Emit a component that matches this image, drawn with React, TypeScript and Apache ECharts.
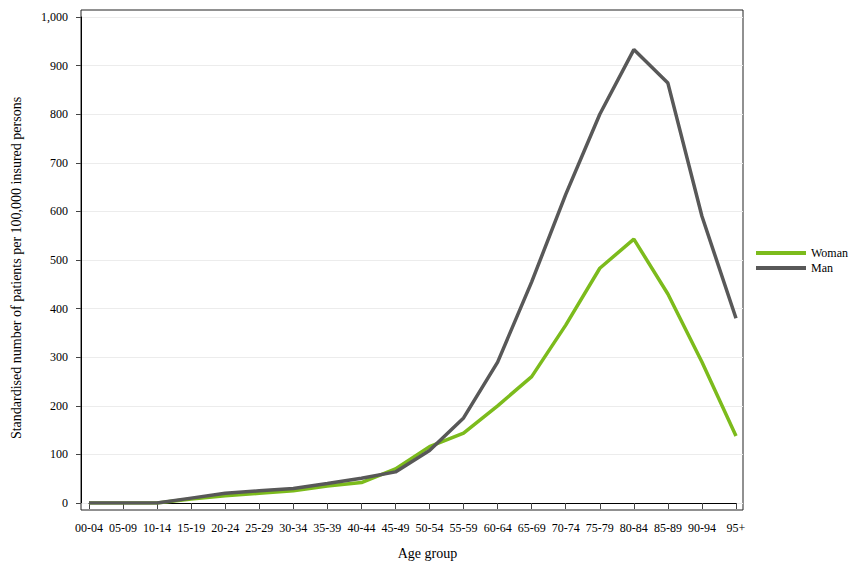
import React, { useEffect, useRef } from "react";
import * as echarts from "echarts";

const categories = ["00-04","05-09","10-14","15-19","20-24","25-29","30-34","35-39","40-44","45-49","50-54","55-59","60-64","65-69","70-74","75-79","80-84","85-89","90-94","95+"];
const womanValues = [0, 0, 0, 8, 15, 20, 25, 35, 42, 70, 116, 144, 200, 260, 366, 483, 543, 430, 290, 138];
const manValues = [0, 0, 0, 10, 20, 25, 30, 40, 51, 64, 108, 175, 290, 455, 635, 800, 933, 864, 590, 380];
const yTicks = { min: 0, max: 1000, interval: 100 };

const FONT = "Liberation Serif";
const GREEN = "#7cbb1c";
const GREY = "#585858";

export default function App() {
  const ref = useRef<HTMLDivElement>(null);
  useEffect(() => {
    document.body.style.margin = "0";
    if (!ref.current) return;
    const chart = echarts.init(ref.current, undefined, { renderer: "svg" });
    chart.setOption({
      animation: false,
      textStyle: { fontFamily: FONT },
      grid: [
        { left: 89, right: 128, top: 17, bottom: 73 },
        { left: 81, right: 121, top: 17, bottom: 73 },
      ],
      legend: {
        orient: "vertical",
        left: 751,
        top: 242,
        itemWidth: 50,
        itemHeight: 4,
        itemGap: 3,
        icon: "rect",
        textStyle: { fontFamily: FONT, fontSize: 12, color: "#000" },
        data: ["Woman", "Man"],
      },
      xAxis: [
        {
          type: "category",
          gridIndex: 0,
          data: categories,
          boundaryGap: false,
          offset: 7,
          axisLine: { lineStyle: { color: "#000", width: 1 } },
          axisTick: { length: 6, alignWithLabel: true, lineStyle: { color: "#444" } },
          axisLabel: { interval: 0, color: "#000", fontSize: 12, margin: 12, fontFamily: FONT },
          splitLine: { show: false },
          name: "Age group",
          nameLocation: "middle",
          nameGap: 36,
          nameTextStyle: { fontSize: 14, color: "#000", fontFamily: FONT, padding: [0, 0, 0, 30] },
        },
        {
          type: "category",
          gridIndex: 1,
          data: categories,
          show: false,
        },
      ],
      yAxis: [
        {
          type: "value",
          gridIndex: 0,
          min: yTicks.min,
          max: yTicks.max,
          interval: yTicks.interval,
          offset: 8,
          axisLine: { show: true, lineStyle: { color: "#000", width: 1 } },
          axisTick: { show: true, length: 5, lineStyle: { color: "#444" } },
          axisLabel: {
            color: "#000",
            fontSize: 12,
            margin: 13,
            fontFamily: FONT,
            formatter: (v: number) => v.toLocaleString("en-US"),
          },
          splitLine: { show: false },
          name: "Standardised number of patients per 100,000 insured persons",
          nameLocation: "middle",
          nameGap: 58,
          nameTextStyle: { fontSize: 14, color: "#000", fontFamily: FONT, padding: [0, 0, 0, -16] },
        },
        {
          type: "value",
          gridIndex: 1,
          min: yTicks.min,
          max: yTicks.max,
          interval: yTicks.interval,
          axisLine: { show: false },
          axisTick: { show: false },
          axisLabel: { show: false },
          splitLine: { show: true, lineStyle: { color: "#ececec", width: 1 } },
        },
      ],
      graphic: [
        {
          type: "rect",
          shape: { x: 81, y: 10, width: 662, height: 500 },
          style: { fill: "none", stroke: "#222", lineWidth: 1 },
          silent: true,
          z: -1,
        },
      ],
      series: [
        {
          name: "Woman",
          type: "line",
          xAxisIndex: 0,
          yAxisIndex: 0,
          data: womanValues,
          symbol: "none",
          lineStyle: { color: GREEN, width: 3.5 },
          itemStyle: { color: GREEN },
        },
        {
          name: "Man",
          type: "line",
          xAxisIndex: 0,
          yAxisIndex: 0,
          data: manValues,
          symbol: "none",
          lineStyle: { color: GREY, width: 3.5 },
          itemStyle: { color: GREY },
        },
      ],
    });
    return () => chart.dispose();
  }, []);
  return <div ref={ref} style={{ width: 864, height: 576 }} />;
}
